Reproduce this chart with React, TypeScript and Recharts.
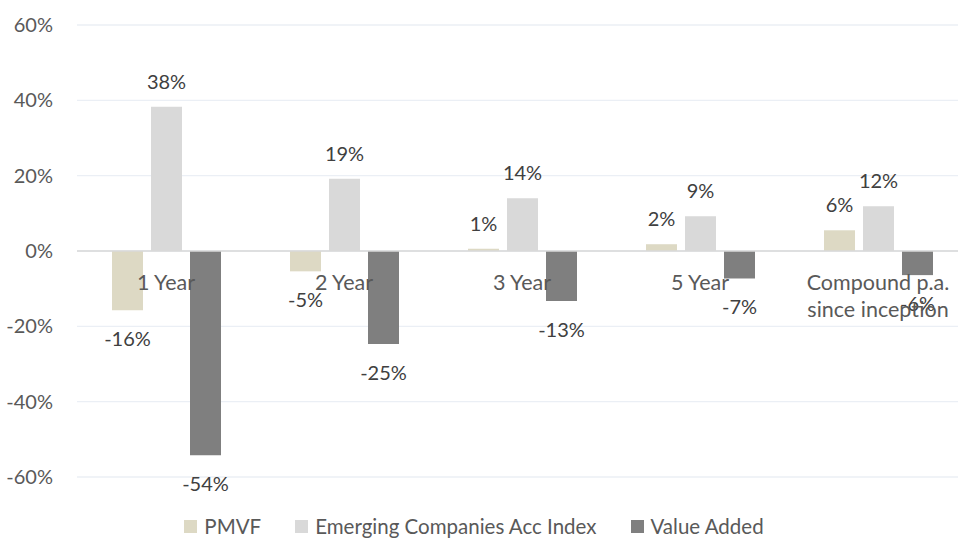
import React from 'react';
import {
  Bar,
  BarChart,
  CartesianGrid,
  LabelList,
  Legend,
  ReferenceLine,
  XAxis,
  YAxis,
} from 'recharts';

const categories = ['1 Year', '2 Year', '3 Year', '5 Year', 'Compound p.a.\nsince inception'];
const pmvf = [-15.7, -5.4, 0.6, 1.8, 5.5];
const emergingIndex = [38.3, 19.2, 14.0, 9.2, 11.9];
const valueAdded = [-54.2, -24.7, -13.3, -7.3, -6.4];
const yTicks = [-60, -40, -20, 0, 20, 40, 60];

const series = [
  { key: 'pmvf', name: 'PMVF', color: '#DDD9C4' },
  { key: 'index', name: 'Emerging Companies Acc Index', color: '#D9D9D9' },
  { key: 'added', name: 'Value Added', color: '#7F7F7F' },
];

const data = categories.map((name, i) => ({
  name,
  pmvf: pmvf[i],
  index: emergingIndex[i],
  added: valueAdded[i],
}));

const FONT = 'Lato, "Open Sans", sans-serif';
const WIDTH = 975;
const HEIGHT = 538;
const MARGIN = { top: 25, right: 8, left: 0, bottom: 60 };
const PLOT_H = HEIGHT - MARGIN.top - MARGIN.bottom - 1;
const ZERO_Y = MARGIN.top + PLOT_H / 2;

// category labels sit just under the zero line, like the Excel original
const renderCategoryTick = (props: any) => {
  const { x, payload } = props;
  const lines = String(payload.value).split('\n');
  return (
    <text x={x} y={ZERO_Y + 39} textAnchor="middle" fill="#595959" fontSize={21.5} fontFamily={FONT}>
      {lines.map((line, i) => (
        <tspan key={i} x={x} dy={i === 0 ? 0 : 27}>
          {line}
        </tspan>
      ))}
    </text>
  );
};

const ValueLabel = (props: any) => {
  const { x, y, width, height, value } = props;
  const top = Math.min(y, y + height);
  const bottom = Math.max(y, y + height);
  const ty = value >= 0 ? top - 18 : bottom + 36;
  return (
    <text x={x + width / 2} y={ty} textAnchor="middle" fill="#404040" fontSize={20} fontFamily={FONT}>
      {`${Math.round(value)}%`}
    </text>
  );
};

const renderLegend = () => (
  <div
    style={{
      display: 'flex',
      justifyContent: 'center',
      gap: 34,
      fontFamily: FONT,
      fontSize: 20.5,
      lineHeight: '20px',
      color: '#595959',
      paddingRight: 10,
    }}
  >
    {series.map((s) => (
      <div key={s.key} style={{ display: 'flex', alignItems: 'center', whiteSpace: 'nowrap' }}>
        <span style={{ width: 13, height: 13, background: s.color, marginRight: 7, display: 'inline-block' }} />
        {s.name}
      </div>
    ))}
  </div>
);

export default function App() {
  return (
    <div
      style={{
        position: 'absolute',
        left: 0,
        top: 0,
        width: 958,
        height: HEIGHT,
        overflow: 'hidden',
        background: '#fff',
      }}
    >
      <BarChart width={WIDTH} height={HEIGHT} data={data} margin={MARGIN} barSize={31} barGap={8}>
        <CartesianGrid vertical={false} stroke="#EBEFF5" strokeWidth={1.3} />
        <YAxis
          domain={[-60, 60]}
          ticks={yTicks}
          width={77}
          axisLine={false}
          tickLine={false}
          tickSize={0}
          tickMargin={24}
          tickFormatter={(v: number) => `${v}%`}
          tick={{ fill: '#595959', fontSize: 20, fontFamily: FONT }}
        />
        <ReferenceLine y={0} stroke="#D9D9D9" strokeWidth={1.5} />
        {series.map((s) => (
          <Bar key={s.key} dataKey={s.key} name={s.name} fill={s.color} isAnimationActive={false}>
            <LabelList dataKey={s.key} content={<ValueLabel />} />
          </Bar>
        ))}
        <XAxis
          dataKey="name"
          height={1}
          axisLine={false}
          tickLine={false}
          tickSize={0}
          tickMargin={0}
          interval={0}
          tick={renderCategoryTick}
        />
        <Legend
          content={renderLegend}
          wrapperStyle={{ left: 0, width: 958, top: 516, bottom: 'auto', height: 0 }}
        />
      </BarChart>
    </div>
  );
}
